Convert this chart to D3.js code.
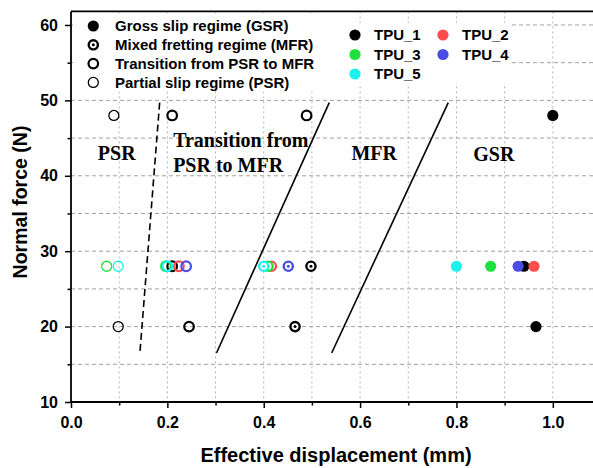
<!DOCTYPE html>
<html>
<head>
<meta charset="utf-8">
<script src="https://cdn.jsdelivr.net/npm/d3@7"></script>
<style>
  html, body { margin: 0; padding: 0; background: #fff; }
  svg { display: block; }
  .tick text { font-family: "Liberation Sans", Arial, sans-serif; font-weight: bold; font-size: 16px; fill: #000; }
</style>
</head>
<body>
<svg id="chart" width="593" height="468"></svg>
<script>
// ---------- data ----------
const xTicks = [0.0, 0.2, 0.4, 0.6, 0.8, 1.0];
const xMinorTicks = [0.1, 0.3, 0.5, 0.7, 0.9];
const yTicks = [10, 20, 30, 40, 50, 60];
const yMinorTicks = [15, 25, 35, 45, 55];

const regimeKeys = ["GSR", "MFR", "TRANS", "PSR"];
const regimeLabels = ["Gross slip regime (GSR)", "Mixed fretting regime (MFR)",
                      "Transition from PSR to MFR", "Partial slip regime (PSR)"];

const seriesNames = ["TPU_1", "TPU_2", "TPU_3", "TPU_4", "TPU_5"];
const seriesColors = ["#000000", "#ff4d4d", "#1fe03c", "#4b4be6", "#1ef0f0"];

// [displacement (mm), normal force (N), regime]
const tpu1 = [
  [0.089, 48, "PSR"], [0.210, 48, "TRANS"], [0.489, 48, "TRANS"], [1.000, 48, "GSR"],
  [0.210, 28, "TRANS"], [0.498, 28, "MFR"], [0.940, 28, "GSR"],
  [0.098, 20, "PSR"], [0.245, 20, "TRANS"], [0.465, 20, "MFR"], [0.965, 20, "GSR"]
];
const tpu2 = [[0.224, 28, "TRANS"], [0.416, 28, "MFR"], [0.961, 28, "GSR"]];
const tpu3 = [[0.074, 28, "PSR"], [0.197, 28, "TRANS"], [0.409, 28, "MFR"], [0.871, 28, "GSR"]];
const tpu4 = [[0.239, 28, "TRANS"], [0.451, 28, "MFR"], [0.928, 28, "GSR"]];
const tpu5 = [[0.098, 28, "PSR"], [0.200, 28, "TRANS"], [0.400, 28, "MFR"], [0.800, 28, "GSR"]];
const seriesData = [tpu1, tpu2, tpu3, tpu4, tpu5];

// boundary lines [x, y]
const boundaryPSR = [[0.184, 49.7], [0.143, 16.5]];
const boundaryMFR = [[0.536, 49.7], [0.302, 16.5]];
const boundaryGSR = [[0.783, 49.7], [0.541, 16.5]];

const regionTexts = ["PSR", "Transition from", "PSR to MFR", "MFR", "GSR"];

// ---------- layout ----------
const svg = d3.select("#chart");
const pL = 71, pR = 601, pT = 11.4, pB = 402;
const x = d3.scaleLinear().domain([0, 1.1]).range([pL, pR]);
const y = d3.scaleLinear().domain([10, 61.8]).range([pB, pT]);

// grid
const grid = svg.append("g");
grid.selectAll("line.v").data(d3.range(1, 11).map(i => i / 10)).join("line")
  .attr("x1", d => x(d)).attr("x2", d => x(d)).attr("y1", pT).attr("y2", pB)
  .attr("stroke", "#b4b4b4").attr("stroke-width", 1).attr("stroke-dasharray", "2,3");
grid.selectAll("line.h").data(d3.range(15, 61, 5)).join("line")
  .attr("x1", pL).attr("x2", pR).attr("y1", d => y(d)).attr("y2", d => y(d))
  .attr("stroke", "#a0a0a0").attr("stroke-width", 1).attr("stroke-dasharray", "4,3");

// legend backgrounds
svg.append("rect").attr("x", pL + 2).attr("y", pT + 2).attr("width", 262).attr("height", 78).attr("fill", "#fff");
svg.append("rect").attr("x", 337).attr("y", 23).attr("width", 173).attr("height", 60).attr("fill", "#fff");

// boundary lines
const lineGen = d3.line().x(d => x(d[0])).y(d => y(d[1]));
svg.append("path").attr("d", lineGen(boundaryPSR)).attr("fill", "none")
  .attr("stroke", "#000").attr("stroke-width", 1.6).attr("stroke-dasharray", "7,4");
[boundaryMFR, boundaryGSR].forEach(b => {
  svg.append("path").attr("d", lineGen(b)).attr("fill", "none")
    .attr("stroke", "#000").attr("stroke-width", 1.6);
});

// region labels
const serif = "'Liberation Serif', 'Times New Roman', serif";
const regionG = svg.append("g").attr("font-family", serif).attr("font-weight", "bold")
  .attr("font-size", "20px").attr("fill", "#000");
regionG.append("text").attr("x", x(0.095)).attr("y", y(42.1)).attr("text-anchor", "middle").text(regionTexts[0]);
regionG.append("text").attr("x", x(0.212)).attr("y", y(43.8)).text(regionTexts[1]);
regionG.append("text").attr("x", x(0.212)).attr("y", y(40.5)).text(regionTexts[2]);
regionG.append("text").attr("x", x(0.582)).attr("y", y(42.1)).text(regionTexts[3]);
regionG.append("text").attr("x", x(0.835)).attr("y", y(42.0)).text(regionTexts[4]);

// marker drawer
function drawMarker(g, cx, cy, regime, color) {
  if (regime === "GSR") {
    g.append("circle").attr("cx", cx).attr("cy", cy).attr("r", 5.6).attr("fill", color);
  } else if (regime === "MFR") {
    g.append("circle").attr("cx", cx).attr("cy", cy).attr("r", 4.6).attr("fill", "#fff")
      .attr("stroke", color).attr("stroke-width", 2.4);
    g.append("circle").attr("cx", cx).attr("cy", cy).attr("r", 1.5).attr("fill", color);
  } else if (regime === "TRANS") {
    g.append("circle").attr("cx", cx).attr("cy", cy).attr("r", 4.8).attr("fill", "none")
      .attr("stroke", color).attr("stroke-width", 2.2);
  } else {
    g.append("circle").attr("cx", cx).attr("cy", cy).attr("r", 5).attr("fill", "none")
      .attr("stroke", color).attr("stroke-width", 1.3);
  }
}

// points
const pts = svg.append("g");
seriesData.forEach((arr, i) => {
  arr.forEach(p => drawMarker(pts, x(p[0]), y(p[1]), p[2], seriesColors[i]));
});

// axes
const axG = svg.append("g");
axG.append("g").attr("transform", `translate(0,${pB})`)
  .call(d3.axisBottom(x).tickValues(xTicks).tickFormat(d3.format(".1f")).tickSize(6).tickPadding(9));
axG.append("g").attr("transform", `translate(0,${pB})`)
  .call(d3.axisBottom(x).tickValues(xMinorTicks).tickFormat("").tickSize(3.5));
axG.append("g").attr("transform", `translate(${pL},0)`)
  .call(d3.axisLeft(y).tickValues(yTicks).tickFormat(d3.format("d")).tickSize(6).tickPadding(7));
axG.append("g").attr("transform", `translate(${pL},0)`)
  .call(d3.axisLeft(y).tickValues(yMinorTicks).tickFormat("").tickSize(3.5));
axG.selectAll(".domain").remove();
axG.selectAll(".tick line").attr("stroke", "#000").attr("stroke-width", 1.5);
axG.selectAll(".tick text").attr("fill", "#000");

// frame
svg.append("line").attr("x1", pL).attr("x2", pL).attr("y1", pT).attr("y2", pB)
  .attr("stroke", "#000").attr("stroke-width", 1.8);
svg.append("line").attr("x1", pL).attr("x2", pR).attr("y1", pB).attr("y2", pB)
  .attr("stroke", "#000").attr("stroke-width", 1.8);
svg.append("line").attr("x1", pL).attr("x2", pR).attr("y1", pT).attr("y2", pT)
  .attr("stroke", "#000").attr("stroke-width", 1.8);

// axis titles
const sans = "'Liberation Sans', Arial, sans-serif";
svg.append("text").attr("x", (pL + pR) / 2).attr("y", 462).attr("text-anchor", "middle")
  .attr("font-family", sans).attr("font-weight", "bold").attr("font-size", "20px")
  .text("Effective displacement (mm)");
svg.append("text").attr("transform", "translate(27,202) rotate(-90)").attr("text-anchor", "middle")
  .attr("font-family", sans).attr("font-weight", "bold").attr("font-size", "19.5px")
  .text("Normal force (N)");

// legend 1: regimes
const leg1 = svg.append("g");
const leg1Y = [26, 44.8, 63.6, 82.4];
regimeKeys.forEach((k, i) => {
  drawMarker(leg1, 93.3, leg1Y[i], k, "#000");
  leg1.append("text").attr("x", 115).attr("y", leg1Y[i]).attr("dy", "0.36em")
    .attr("font-family", sans).attr("font-weight", "bold").attr("font-size", "15px")
    .text(regimeLabels[i]);
});

// legend 2: series
const leg2 = svg.append("g");
const leg2Pos = [[355, 35], [443, 35], [355, 54.5], [443, 54.5], [355, 74]];
seriesNames.forEach((n, i) => {
  const [lx, ly] = leg2Pos[i];
  drawMarker(leg2, lx, ly, "GSR", seriesColors[i]);
  leg2.append("text").attr("x", lx + 19).attr("y", ly).attr("dy", "0.36em")
    .attr("font-family", sans).attr("font-weight", "bold").attr("font-size", "15px")
    .text(n);
});
</script>
</body>
</html>
